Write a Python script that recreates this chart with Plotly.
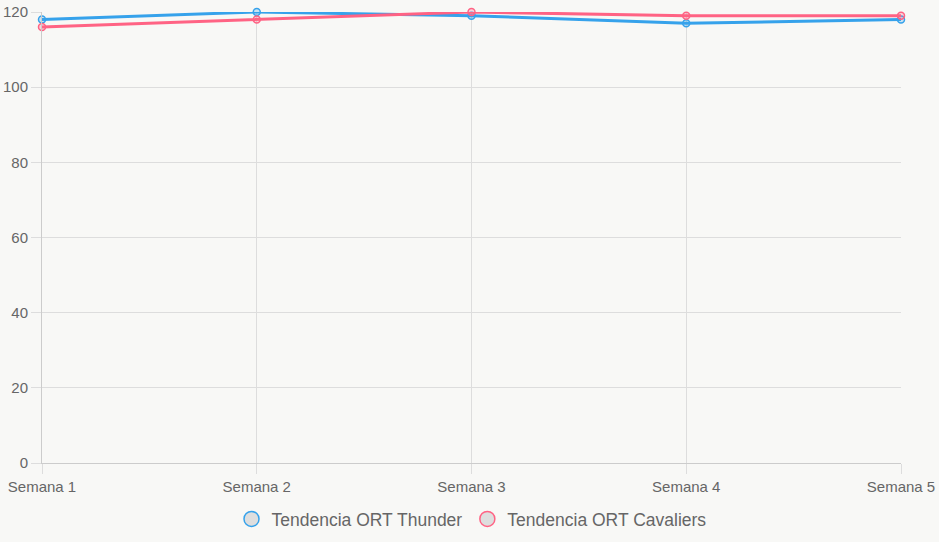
import plotly.graph_objects as go

categories = ["Semana 1", "Semana 2", "Semana 3", "Semana 4", "Semana 5"]
thunder = [118, 120, 119, 117, 118]
cavaliers = [116, 118, 120, 119, 119]
series_names = ["Tendencia ORT Thunder", "Tendencia ORT Cavaliers"]

BLUE = "rgb(54,162,235)"
PINK = "rgb(255,99,132)"
BG = "#f8f8f6"
FONT = "Liberation Sans, Arial, Helvetica, sans-serif"

fig = go.Figure()
for vals, col, fillc in [(thunder, BLUE, "rgba(54,162,235,0.25)"),
                         (cavaliers, PINK, "rgba(255,99,132,0.25)")]:
    fig.add_trace(go.Scatter(
        x=categories, y=vals, mode="lines+markers",
        line=dict(color=col, width=3),
        marker=dict(size=7, color=fillc, line=dict(color=col, width=1.5)),
        showlegend=False, cliponaxis=False, hoverinfo="x+y"))

for name, col in zip(series_names, [BLUE, PINK]):
    fig.add_trace(go.Scatter(
        x=[None], y=[None], mode="markers", name=name,
        marker=dict(size=15, color="#dedede", line=dict(color=col, width=1.5))))

fig.update_layout(
    width=939, height=542,
    paper_bgcolor=BG, plot_bgcolor=BG,
    margin=dict(l=42, r=38, t=12, b=79, autoexpand=False),
    font=dict(family=FONT, color="#666", size=15),
    legend=dict(orientation="h", x=0.5, xanchor="center",
                yref="container", y=23 / 542, yanchor="middle",
                font=dict(size=17.5, color="#666"), itemwidth=30,
                bgcolor="rgba(0,0,0,0)"),
)
fig.update_xaxes(
    type="category", range=[0, 4], showgrid=True, gridcolor="#dddddd", gridwidth=1,
    showline=True, linecolor="#cccccc", linewidth=1, automargin=False,
    ticks="outside", ticklen=10, tickcolor="#dddddd",
    tickfont=dict(size=15, color="#666"), zeroline=False)
fig.update_yaxes(
    range=[0, 120], dtick=20, showgrid=True, gridcolor="#dddddd", gridwidth=1,
    showline=True, linecolor="#cccccc", linewidth=1, automargin=False,
    ticks="outside", ticklen=10, tickcolor="#dddddd",
    tickfont=dict(size=15, color="#666"), zeroline=False)

fig.write_html("out.html")
